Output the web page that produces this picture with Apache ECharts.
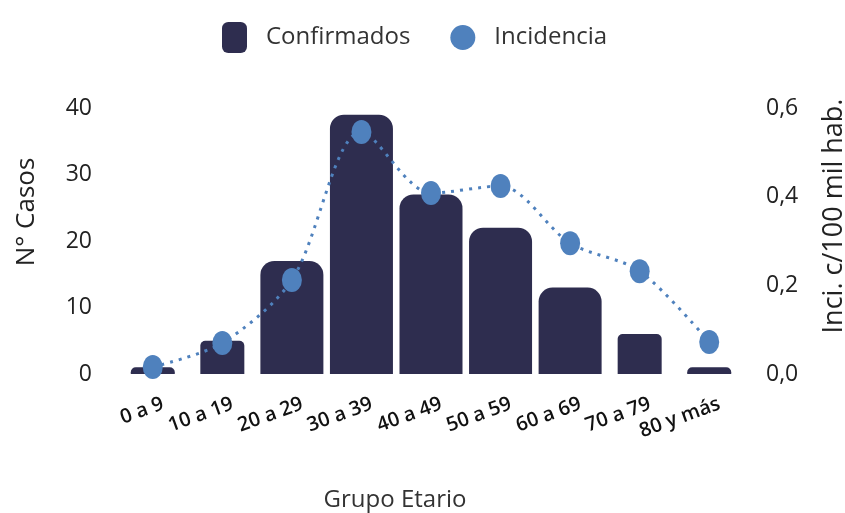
<!DOCTYPE html>
<html>
<head>
<meta charset="utf-8">
<title>Confirmados e incidencia por grupo etario</title>
<script src="https://cdn.jsdelivr.net/npm/echarts@6/dist/echarts.min.js"></script>
<style>
  html, body { margin: 0; padding: 0; background: #fff; }
  #chart { width: 845px; height: 513px; }
</style>
</head>
<body>
<div id="chart"></div>
<script>
const grupos = ["0 a 9", "10 a 19", "20 a 29", "30 a 39", "40 a 49", "50 a 59", "60 a 69", "70 a 79", "80 y más"];
const confirmados = [1, 5, 17, 39, 27, 22, 13, 6, 1];
const incidencia = [0.016, 0.07, 0.212, 0.546, 0.408, 0.424, 0.295, 0.232, 0.072];
const casosTicks = [0, 10, 20, 30, 40];
const inciTicks = [0, 0.2, 0.4, 0.6];

// los grupos de los extremos tienen barras más angostas en el original
const angostas = [0, 1, 7, 8];

(function () {
  const chart = echarts.init(document.getElementById("chart"));
  const font = "Open Sans";
  const barColor = "#2e2d4f";
  const dotColor = "#4f81bd";

  const anchas = confirmados.map((v, i) => (angostas.includes(i) ? null : v));
  const estrechas = confirmados.map((v, i) => (angostas.includes(i) ? v : null));

  const option = {
    textStyle: { fontFamily: font },
    legend: {
      top: 17,
      left: 217,
      itemWidth: 25,
      itemHeight: 31,
      itemGap: 40,
      symbolKeepAspect: false,
      textStyle: { fontSize: 24, color: "#333", padding: [0, 0, 0, 14] },
      data: [
        { name: "Confirmados", icon: "roundRect", itemStyle: { color: barColor } },
        { name: "Incidencia", icon: "circle", itemStyle: { color: dotColor } },
      ],
    },
    grid: { left: 118, right: 101, top: 108, bottom: 139, outerBoundsMode: "none" },
    xAxis: [
      {
        type: "category",
        data: grupos,
        name: "Grupo Etario",
        nameLocation: "middle",
        nameGap: 114,
        nameTextStyle: { fontSize: 24, color: "#333", padding: [0, 72, 0, 0] },
        axisLine: { show: false },
        axisTick: { show: false },
        axisLabel: {
          interval: 0,
          rotate: 20,
          margin: 33,
          fontSize: 20,
          fontWeight: 600,
          color: "#111",
          padding: [0, -11, 0, 0],
        },
      },
      {
        type: "category",
        data: grupos,
        show: false,
      },
    ],
    yAxis: [
      {
        type: "value",
        min: casosTicks[0],
        max: casosTicks[casosTicks.length - 1],
        interval: casosTicks[1] - casosTicks[0],
        name: "N° Casos",
        nameLocation: "middle",
        nameGap: 78,
        nameTextStyle: { fontSize: 26, color: "#222", padding: [0, 0, 0, 58] },
        axisLine: { show: false },
        axisTick: { show: false },
        splitLine: { show: false },
        axisLabel: { fontSize: 23, color: "#222", margin: 26 },
      },
      {
        type: "value",
        min: inciTicks[0],
        max: inciTicks[inciTicks.length - 1],
        interval: inciTicks[1] - inciTicks[0],
        name: "Inci. c/100 mil hab.",
        nameLocation: "middle",
        nameGap: 77,
        nameTextStyle: { fontSize: 27, color: "#222", padding: [0, 0, 0, 50] },
        axisLine: { show: false },
        axisTick: { show: false },
        splitLine: { show: false },
        axisLabel: {
          fontSize: 23,
          color: "#222",
          margin: 22,
          formatter: (v) => v.toFixed(1).replace(".", ","),
        },
      },
    ],
    series: [
      {
        name: "Confirmados",
        type: "bar",
        xAxisIndex: 0,
        yAxisIndex: 0,
        barWidth: 63,
        data: anchas,
        itemStyle: { color: barColor, borderRadius: [14, 14, 0, 0] },
      },
      {
        name: "Confirmados",
        type: "bar",
        xAxisIndex: 1,
        yAxisIndex: 0,
        barWidth: 44,
        data: estrechas,
        itemStyle: { color: barColor, borderRadius: [5, 5, 0, 0] },
      },
      {
        name: "Incidencia",
        type: "line",
        xAxisIndex: 0,
        yAxisIndex: 1,
        data: incidencia,
        smooth: 0.3,
        symbol: "circle",
        symbolSize: [20, 24],
        itemStyle: { color: dotColor },
        lineStyle: { color: dotColor, width: 3, type: [3, 6] },
        z: 5,
      },
    ],
  };
  chart.setOption(option);

  window.addEventListener("resize", function () {
    chart.resize();
  });
})();
</script>
</body>
</html>
